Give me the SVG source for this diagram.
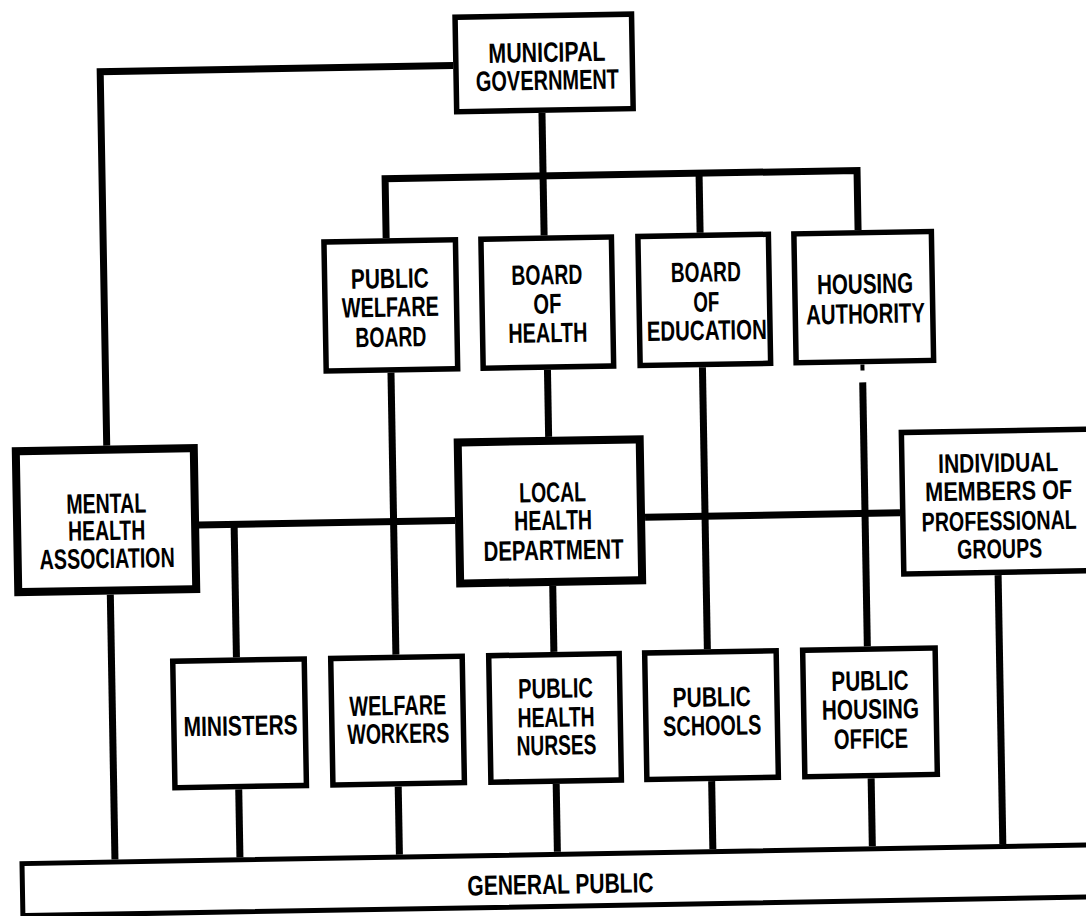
<svg xmlns="http://www.w3.org/2000/svg" width="1086" height="916" viewBox="0 0 1086 916">
<style>
.bg{fill:#ffffff}
.box{fill:#ffffff;stroke:#000000;stroke-width:5.5}
.box2{fill:#ffffff;stroke:#000000;stroke-width:8}
.gp{fill:#ffffff;stroke:#000000;stroke-width:5}
.ln{fill:none;stroke:#000000;stroke-width:7;stroke-linejoin:miter;stroke-linecap:butt}
text{font-family:"Liberation Sans",Arial,sans-serif;font-weight:bold;font-size:28px;fill:#000000;text-anchor:middle}
.sm{font-size:27px}
</style>
<rect class="bg" x="0" y="0" width="1086" height="916"/>
<g transform="rotate(-1 543 458)">
<g id="connectors">
<path class="ln" d="M460,64 H107 V438"/>
<path class="ln" d="M548,113 V235.5"/>
<path class="ln" d="M390,235.5 V176 H862 V235.5"/>
<path class="ln" d="M704,176 V235.5"/>
<path class="ln" d="M549,370 V437"/>
<path class="ln" d="M197,519 H454"/>
<path class="ln" d="M644,519 H899"/>
<path class="ln" d="M233,519 V652"/>
<path class="ln" d="M392.5,370 V652"/>
<path class="ln" d="M550.5,586 V652"/>
<path class="ln" d="M704,370 V652"/>
<path class="ln" d="M864,388 V652"/>
<path class="ln" d="M864,370 V376" style="stroke-width:4"/>
<path class="ln" d="M108,587 V852"/>
<path class="ln" d="M233,784 V852"/>
<path class="ln" d="M392.5,784 V852"/>
<path class="ln" d="M550.5,784 V852"/>
<path class="ln" d="M706,784 V852"/>
<path class="ln" d="M865.5,784 V852"/>
<path class="ln" d="M996,583 V852"/>
</g>
<g id="municipal-government">
<rect class="box" x="462.75" y="15.75" width="176.5" height="94.5"/>
<text x="554" y="62" textLength="117" lengthAdjust="spacingAndGlyphs">MUNICIPAL</text>
<text x="554" y="90" textLength="143" lengthAdjust="spacingAndGlyphs">GOVERNMENT</text>
</g>
<g id="public-welfare-board">
<rect class="box" x="327.75" y="238.25" width="131.5" height="129"/>
<text x="393" y="285.5" textLength="78" lengthAdjust="spacingAndGlyphs">PUBLIC</text>
<text x="393" y="314" textLength="97" lengthAdjust="spacingAndGlyphs">WELFARE</text>
<text x="393" y="344" textLength="71" lengthAdjust="spacingAndGlyphs">BOARD</text>
</g>
<g id="board-of-health">
<rect class="box" x="484.75" y="238.25" width="130.5" height="129"/>
<text x="550" y="284.5" textLength="71" lengthAdjust="spacingAndGlyphs">BOARD</text>
<text x="550" y="313.5" textLength="28" lengthAdjust="spacingAndGlyphs">OF</text>
<text x="550" y="342.5" textLength="79" lengthAdjust="spacingAndGlyphs">HEALTH</text>
</g>
<g id="board-of-education">
<rect class="box" x="641.75" y="238.25" width="130.5" height="129"/>
<text x="709" y="284.5" textLength="70" lengthAdjust="spacingAndGlyphs">BOARD</text>
<text x="709" y="314.5" textLength="26" lengthAdjust="spacingAndGlyphs">OF</text>
<text x="709" y="342.8" textLength="120" lengthAdjust="spacingAndGlyphs">EDUCATION</text>
</g>
<g id="housing-authority">
<rect class="box" x="797.75" y="238.25" width="137.5" height="129"/>
<text x="868" y="299" textLength="96" lengthAdjust="spacingAndGlyphs">HOUSING</text>
<text x="868" y="329" textLength="119" lengthAdjust="spacingAndGlyphs">AUTHORITY</text>
</g>
<g id="mental-health-association">
<rect class="box2" x="16" y="442" width="178" height="141"/>
<text x="105.5" y="505.5" textLength="80" lengthAdjust="spacingAndGlyphs">MENTAL</text>
<text x="105.5" y="532.5" textLength="77" lengthAdjust="spacingAndGlyphs">HEALTH</text>
<text x="105.5" y="560.5" textLength="135" lengthAdjust="spacingAndGlyphs">ASSOCIATION</text>
</g>
<g id="local-health-department">
<rect class="box2" x="458" y="441" width="182" height="141"/>
<text x="552" y="502" textLength="67" lengthAdjust="spacingAndGlyphs">LOCAL</text>
<text x="552" y="530" textLength="78" lengthAdjust="spacingAndGlyphs">HEALTH</text>
<text x="552" y="560" textLength="140" lengthAdjust="spacingAndGlyphs">DEPARTMENT</text>
</g>
<g id="individual-members-of-professional-groups">
<rect class="box" x="901.75" y="438.75" width="189" height="141.5"/>
<text class="sm" transform="translate(998 480) scale(0.75 1)" x="0" y="0" textLength="160" lengthAdjust="spacingAndGlyphs">INDIVIDUAL</text>
<text class="sm" transform="translate(998 508) scale(0.75 1)" x="0" y="0" textLength="196" lengthAdjust="spacingAndGlyphs">MEMBERS OF</text>
<text class="sm" transform="translate(998 538) scale(0.75 1)" x="0" y="0" textLength="206.7" lengthAdjust="spacingAndGlyphs">PROFESSIONAL</text>
<text class="sm" transform="translate(998 566) scale(0.75 1)" x="0" y="0" textLength="113.3" lengthAdjust="spacingAndGlyphs">GROUPS</text>
</g>
<g id="ministers">
<rect class="box" x="169.25" y="654.75" width="131.5" height="126.5"/>
<text x="236" y="730" textLength="114" lengthAdjust="spacingAndGlyphs">MINISTERS</text>
</g>
<g id="welfare-workers">
<rect class="box" x="327.25" y="654.75" width="131.5" height="126.5"/>
<text x="393.5" y="712.5" textLength="97" lengthAdjust="spacingAndGlyphs">WELFARE</text>
<text x="393.5" y="740.5" textLength="102" lengthAdjust="spacingAndGlyphs">WORKERS</text>
</g>
<g id="public-health-nurses">
<rect class="box" x="485.25" y="654.75" width="130.5" height="126.5"/>
<text x="551.5" y="698" textLength="75" lengthAdjust="spacingAndGlyphs">PUBLIC</text>
<text x="551.5" y="727" textLength="77" lengthAdjust="spacingAndGlyphs">HEALTH</text>
<text x="551.5" y="755" textLength="80" lengthAdjust="spacingAndGlyphs">NURSES</text>
</g>
<g id="public-schools">
<rect class="box" x="641.25" y="654.75" width="131.5" height="126.5"/>
<text x="707.5" y="709.5" textLength="78" lengthAdjust="spacingAndGlyphs">PUBLIC</text>
<text x="707.5" y="738" textLength="98" lengthAdjust="spacingAndGlyphs">SCHOOLS</text>
</g>
<g id="public-housing-office">
<rect class="box" x="799.25" y="654.75" width="132.5" height="126.5"/>
<text x="866" y="696" textLength="77" lengthAdjust="spacingAndGlyphs">PUBLIC</text>
<text x="866" y="724.5" textLength="97" lengthAdjust="spacingAndGlyphs">HOUSING</text>
<text x="866" y="754" textLength="74" lengthAdjust="spacingAndGlyphs">OFFICE</text>
</g>
<g id="general-public">
<rect class="gp" x="15" y="854.5" width="1100" height="52"/>
<text x="553" y="894" textLength="186" lengthAdjust="spacingAndGlyphs">GENERAL PUBLIC</text>
</g>
</g>
</svg>
